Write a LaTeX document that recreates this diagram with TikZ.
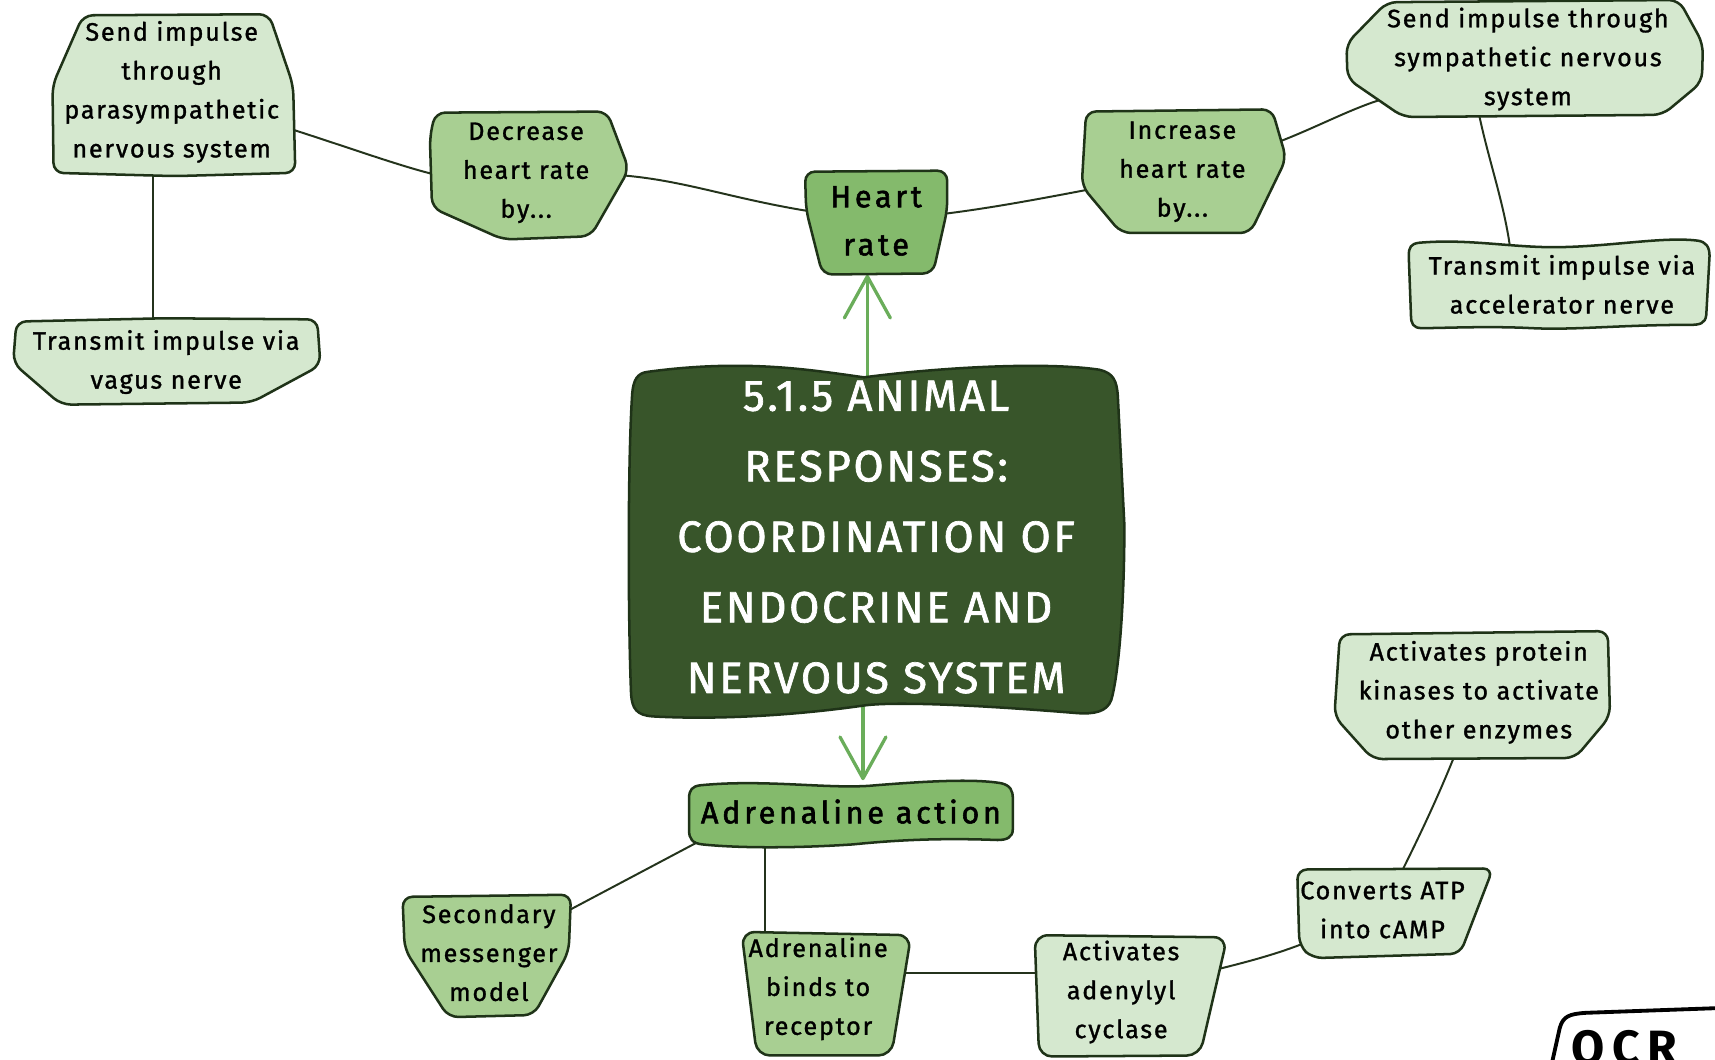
\documentclass[tikz,border=0pt]{standalone}
\usepackage{fontspec}
\setmainfont{Fira Sans}
\newfontfamily\nodefont[LetterSpace=7,FakeBold=1.2]{Fira Sans}
\newfontfamily\titlefont[LetterSpace=6,FakeBold=1.6]{Fira Sans}
\newfontfamily\headfont[LetterSpace=12,FakeBold=1.8]{Fira Sans}
\newfontfamily\ocrfont[LetterSpace=15]{Fira Sans Bold}
\usetikzlibrary{arrows.meta,calc}
\definecolor{cLight}{HTML}{D5E8CF}
\definecolor{cMidLight}{HTML}{A8CF92}
\definecolor{cMid}{HTML}{84BA6C}
\definecolor{cTitle}{HTML}{38552A}
\definecolor{cBorder}{HTML}{1F3318}
\definecolor{cLine}{HTML}{24331C}
\definecolor{cArrow}{HTML}{6AAD5A}
\pgfdeclarelayer{paper}
\pgfdeclarelayer{bg}
\pgfdeclarelayer{shapes}
\pgfsetlayers{paper,bg,shapes,main}
\tikzset{
  shp/.style={draw=cBorder, line width=2.3pt, line join=round, rounded corners=9pt},
  lightshp/.style={shp, fill=cLight},
  mlshp/.style={shp, fill=cMidLight},
  midshp/.style={shp, fill=cMid},
  txt/.style={align=center, inner sep=0pt, text=black, font=\nodefont\fontsize{23}{35.6}\selectfont},
  headtxt/.style={align=center, inner sep=0pt, text=black, font=\headfont\fontsize{28}{44}\selectfont},
  titletxt/.style={align=center, inner sep=0pt, text=white, font=\titlefont\fontsize{40}{64.5}\selectfont},
  conn/.style={draw=cLine, line width=1.8pt},
  garrow/.style={draw=cArrow, line width=3pt, line cap=round, -{Straight Barb[length=38pt,width=42pt,round]}},
}
\begin{document}
\begin{tikzpicture}[x=1pt,y=-1pt]
\begin{pgfonlayer}{paper}
\fill[white] (0,0) rectangle (1568,969);
\end{pgfonlayer}
\useasboundingbox (0,0) rectangle (1568,969);

% ---------- text nodes ----------
\node[txt] (psns) at (157,84) {Send impulse\\through\\parasympathetic\\nervous system};
\node[txt] (vagus) at (152,331) {Transmit impulse via\\vagus nerve};
\node[txt] (decr) at (481,158) {Decrease\\heart rate\\by...};
\node[headtxt, minimum height=98pt] (heart) at (801,202) {Heart\\rate};
\node[txt] (incr) at (1081,157) {Increase\\heart rate\\by...};
\node[txt] (symp) at (1397,54) {Send impulse through\\sympathetic nervous\\system};
\node[txt] (accel) at (1428,260) {Transmit impulse via\\accelerator nerve};
\node[titletxt] (title) at (801,491) {5.1.5 ANIMAL\\RESPONSES:\\COORDINATION OF\\ENDOCRINE AND\\NERVOUS SYSTEM};
\node[headtxt, minimum height=57pt] (action) at (778,742) {Adrenaline action};
\node[txt] (kin) at (1352,633) {Activates protein\\kinases to activate\\other enzymes};
\node[txt] (conv) at (1264,832) {Converts ATP\\into cAMP};
\node[txt] (aden) at (1025,907) {Activates\\adenylyl\\cyclase};
\node[txt] (binds) at (748,904) {Adrenaline\\binds to\\receptor};
\node[txt] (sec) at (447,871) {Secondary\\messenger\\model};
\node[anchor=north west, inner sep=0pt, font=\ocrfont\fontsize{44}{50}\selectfont] (ocr) at (1437,942) {OCR};

% ---------- shapes ----------
\begin{pgfonlayer}{shapes}
\draw[lightshp] (76,14) -- (246,13) -- (268,78) -- (270,158) -- (160,161) -- (49,158) -- (48,78) -- cycle;
\draw[lightshp] (15,294) -- (150,291) -- (290,292) -- (293,334) -- (230,368) -- (56,370) -- (12,332) -- cycle;
\draw[mlshp] (398,103) -- (555,102) -- (575,155) -- (540,216) -- (460,219) -- (395,190) -- (393,125) -- cycle;
\draw[midshp] (736,157) -- (866,156) -- (866,192) -- (853,250) -- (752,251) -- (737,192) -- cycle;
\draw[mlshp] (993,102) -- (1163,100) -- (1176,145) -- (1143,213) -- (1025,213) -- (989,170) -- cycle;
\draw[lightshp] (1268,2) -- (1535,0) -- (1557,40) -- (1556,75) -- (1520,105) -- (1283,107) -- (1232,72) -- (1231,40) -- cycle;
\draw[shp, fill=cLight, rounded corners=0pt] (1297,222) .. controls (1340,218) and (1380,226) .. (1420,226) .. controls (1470,226) and (1520,216) .. (1552,220) .. controls (1560,221) and (1563,226) .. (1563,234) -- (1560,288) .. controls (1559,296) and (1554,297) .. (1545,297) .. controls (1480,297) and (1440,302) .. (1400,300) .. controls (1360,298) and (1320,300) .. (1300,300) .. controls (1292,300) and (1290,296) .. (1290,288) -- (1288,234) .. controls (1288,226) and (1290,223) .. (1297,222) -- cycle;
\draw[shp, fill=cTitle, rounded corners=0pt] (592,340) .. controls (680,328) and (740,338) .. (790,345) .. controls (850,337) and (950,330) .. (1005,338) .. controls (1018,341) and (1021,348) .. (1022,362) -- (1028,480) .. controls (1028,560) and (1022,620) .. (1016,640) .. controls (1012,651) and (1000,653) .. (985,652) .. controls (900,645) and (820,641) .. (790,645) .. controls (720,655) and (650,658) .. (597,655) .. controls (582,654) and (578,648) .. (577,635) .. controls (574,560) and (574,420) .. (578,360) .. controls (579,347) and (583,341) .. (592,340) -- cycle;
\draw[shp, fill=cMid, rounded corners=0pt] (640,718) .. controls (700,712) and (760,722) .. (800,718) .. controls (850,714) and (890,712) .. (915,716) .. controls (924,718) and (926,723) .. (926,730) -- (926,758) .. controls (926,766) and (920,768) .. (912,768) .. controls (860,766) and (820,768) .. (780,772) .. controls (720,776) and (670,775) .. (642,772) .. controls (633,771) and (630,767) .. (630,759) -- (630,730) .. controls (630,722) and (633,719) .. (640,718) -- cycle;
\draw[lightshp] (1225,580) -- (1470,577) -- (1472,655) -- (1440,693) -- (1255,694) -- (1220,655) -- cycle;
\draw[lightshp] (1186,795) -- (1365,794) -- (1335,872) -- (1200,876) -- (1188,865) -- cycle;
\draw[lightshp, rounded corners=12pt] (946,855) -- (1122,857) -- (1097,965) -- (950,966) -- cycle;
\draw[mlshp, rounded corners=12pt] (678,852) -- (833,855) -- (815,965) -- (692,965) -- cycle;
\draw[mlshp] (368,820) -- (522,818) -- (520,870) -- (488,928) -- (410,930) -- (370,868) -- cycle;
\draw[fill=white, draw=black, line width=3.5pt, line join=round] (1416,985) -- (1426,940) .. controls (1429,929) and (1435,927) .. (1450,926) -- (1590,921) -- (1590,985) ;
\end{pgfonlayer}

% ---------- connectors ----------
\begin{pgfonlayer}{bg}
\draw[conn] (heart) .. controls (660,182) and (620,160) .. (decr);
\draw[conn] (heart) .. controls (900,192) and (960,180) .. (incr);
\draw[conn] (decr) .. controls (400,165) and (330,138) .. (psns);
\draw[conn] (140,0 |- psns) -- (140,0 |- vagus);
\draw[conn] (incr) .. controls (1190,125) and (1230,100) .. (symp);
\draw[conn] ($(symp)+(-52,0)$) .. controls (1350,130) and (1383,190) .. ($(accel)+(-45,0)$);
\draw[conn] ($(action)+(-78,-5)$) -- (sec);
\draw[conn] (699,0 |- action) -- (699,0 |- binds);
\draw[conn] (binds |- 0,890) -- (aden |- 0,890);
\draw[conn] (aden) .. controls (1140,880) and (1170,872) .. (conv);
\draw[conn] (conv) .. controls (1290,780) and (1315,730) .. (kin);
\draw[garrow] (793,0 |- title) -- (793,0 |- heart.south);
\draw[garrow] (789,0 |- title) -- (789,0 |- action.north);
\end{pgfonlayer}
\end{tikzpicture}
\end{document}
